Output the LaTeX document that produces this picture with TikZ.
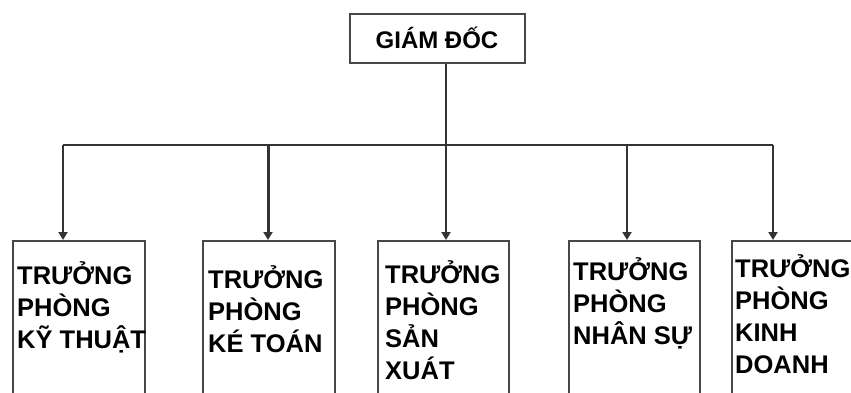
\documentclass[tikz,border=0pt]{standalone}
\usepackage{fontspec}
\setmainfont{Liberation Sans}
\usetikzlibrary{arrows.meta}
\tikzset{
  box/.style={draw=black!72, line width=1.8pt, rectangle, anchor=north west, inner sep=0pt},
  lbl/.style={anchor=base west, inner sep=0pt, align=left, font=\fontsize{25.5}{32}\selectfont\bfseries, text=black},
  conn/.style={draw=black!80, line width=2.4pt},
  arr/.style={conn, -{Triangle[width=9pt,length=8pt]}},
}
\begin{document}
\begin{tikzpicture}[x=1pt,y=-1pt]
\useasboundingbox (0,0) rectangle (851,393);
\fill[white] (0,0) rectangle (851,393);
\clip (0,0) rectangle (851,393);
% top box
\node[box, minimum width=175pt, minimum height=49pt] (gd) at (349,13) {};
\node[anchor=base, inner sep=0pt, font=\fontsize{24}{28}\selectfont\bfseries] (gdt) at (437,48.5) {GIÁM ĐỐC};
% lower boxes
\node[box, minimum width=132pt, minimum height=170pt] (b1) at (12,240) {};
\node[box, minimum width=132pt, minimum height=170pt] (b2) at (202,240) {};
\node[box, minimum width=131pt, minimum height=170pt] (b3) at (377,240) {};
\node[box, minimum width=131pt, minimum height=170pt] (b4) at (568,240) {};
\node[box, minimum width=140pt, minimum height=170pt] (b5) at (731,240) {};
% labels (anchored at the baseline of the last line)
\node[lbl] (t1) at (17,348) {TRƯỞNG\\PHÒNG\\KỸ THUẬT};
\node[lbl] (t2) at (208,352) {TRƯỞNG\\PHÒNG\\KÉ TOÁN};
\node[lbl] (t3) at (385,379) {TRƯỞNG\\PHÒNG\\SẢN\\XUÁT};
\node[lbl] (t4) at (573,344) {TRƯỞNG\\PHÒNG\\NHÂN SỰ};
\node[lbl] (t5) at (735,373) {TRƯỞNG\\PHÒNG\\KINH\\DOANH};
% bus
\coordinate (j1) at (63,145);
\coordinate (j2) at (268,145);
\coordinate (j3) at (446,145);
\coordinate (j4) at (627,145);
\coordinate (j5) at (773,145);
\draw[conn, line width=1.8pt] (j1) -- (j5);
\draw[arr, line width=2.8pt] (gd.south -| j3) -- (j3 |- b3.north);
\draw[arr, line width=2pt] (j1) -- (j1 |- b1.north);
\draw[arr, line width=3pt] (j2) -- (j2 |- b2.north);
\draw[arr] (j4) -- (j4 |- b4.north);
\draw[arr] (j5) -- (j5 |- b5.north);
\end{tikzpicture}
\end{document}
